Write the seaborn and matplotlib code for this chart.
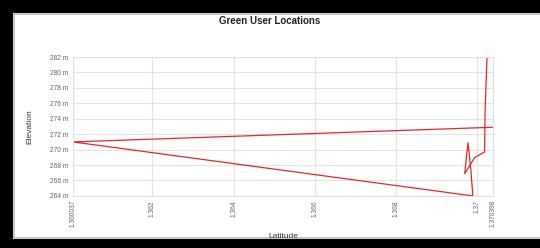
import numpy as np
import pandas as pd
import matplotlib
matplotlib.use("Agg")
import matplotlib.pyplot as plt
from matplotlib.patches import Rectangle
import seaborn as sns

# Datos de la ruta (en orden de registro)
latitude = [1.37025, 1.37020, 1.37019, 1.36995, 1.36982, 1.36970,
            1.36978, 1.36985, 1.36990, 1.360037, 1.370398]
elevation = [282.0, 274.5, 269.7, 269.0, 267.9, 266.9,
             270.9, 267.5, 264.0, 271.0, 272.9]

y_ticks = [264, 266, 268, 270, 272, 274, 276, 278, 280, 282]
y_labels = [f"{v} m" for v in y_ticks]
x_ticks = [1.360037, 1.362, 1.364, 1.366, 1.368, 1.37, 1.370398]
x_labels = ["1.360037", "1.362", "1.364", "1.366", "1.368", "1.37", "1.370398"]

df = pd.DataFrame({"Latitude": latitude, "Elevation": elevation})

sns.set_style("white")
plt.rcParams["font.family"] = ["Liberation Sans", "DejaVu Sans"]

fig = plt.figure(figsize=(5.4, 2.48), dpi=100)
fig.patch.set_facecolor("black")
# panel blanco (sin borde negro a la derecha)
fig.patches.append(Rectangle((14 / 540, 10 / 248), 540 / 540, 224 / 248,
                             transform=fig.transFigure, facecolor="white",
                             edgecolor="#c8c8c8", linewidth=1.5, zorder=-5))

ax = fig.add_axes([0.135, 0.21, 0.778, 0.56])
ax.set_facecolor("white")
sns.lineplot(data=df, x="Latitude", y="Elevation", sort=False, estimator=None,
             color="#e8262e", linewidth=0.9, ax=ax)

ax.set_xlim(x_ticks[0], x_ticks[-1])
ax.set_ylim(264, 282)
ax.set_yticks(y_ticks)
ax.set_yticklabels(y_labels)
ax.set_xticks(x_ticks)
ax.set_xticklabels(x_labels, rotation=90)
ax.tick_params(labelsize=4.8, colors="#666666", length=0, pad=3)
ax.grid(True, color="#e4e4e4", linewidth=0.8)
for s in ax.spines.values():
    s.set_color("#e0e0e0")
    s.set_linewidth(0.8)

ax.set_xlabel("Latitude", fontsize=6, color="#333333")
ax.set_ylabel("Elevation", fontsize=6, color="#333333")
ax.xaxis.set_label_coords(0.5, -0.27)
ax.yaxis.set_label_coords(-0.095, 0.5)
fig.text(0.5, 0.915, "Green User Locations", ha="center", va="center",
         fontsize=7, fontweight="bold", color="#222222")

plt.savefig("out.png", dpi=100, facecolor=fig.get_facecolor())
